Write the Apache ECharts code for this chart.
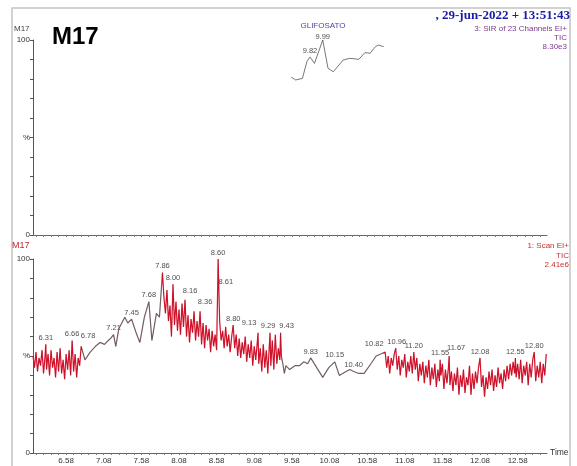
<!DOCTYPE html>
<html>
<head>
<meta charset="utf-8">
<script src="https://cdn.jsdelivr.net/npm/echarts@6/dist/echarts.min.js"></script>
<style>
  html, body { margin: 0; padding: 0; background: #ffffff; }
  #chart { width: 577px; height: 466px; }
</style>
</head>
<body>
<div id="chart"></div>
<script>
// ---- Time axis (minutes) ----
const timeMin = 6.14;
const timeMax = 12.97;
const timeTickLabels = [6.58, 7.08, 7.58, 8.08, 8.58, 9.08, 9.58, 10.08, 10.58, 11.08, 11.58, 12.08, 12.58];

// ---- Channel 3: SIR of 23 channels, GLIFOSATO window (% of 8.30e3) ----
const sirTrace = [
  [9.57, 81], [9.63, 79.5], [9.72, 80.3], [9.78, 89], [9.82, 91.3], [9.88, 88],
  [9.99, 100], [10.06, 85.5], [10.13, 83.7], [10.26, 89.7], [10.35, 90.6],
  [10.47, 90.1], [10.55, 93.5], [10.62, 93.2], [10.69, 96.6], [10.73, 97.4], [10.80, 96.6]
];
const sirPeaks = [[9.82, 91.3], [9.99, 100]];

// ---- Channel 1: Scan EI+ TIC (% of 2.41e6) ----
// labelled peaks (retention time, %)
const ticPeaks = [
  [6.31, 56], [6.66, 58], [6.78, 55], [7.21, 61], [7.45, 69], [7.68, 78], [7.86, 93],
  [8.00, 87], [8.16, 79], [8.36, 73], [8.60, 100], [8.61, 84], [8.80, 66], [9.13, 62],
  [9.29, 62], [9.43, 62], [9.83, 49], [10.15, 47], [10.40, 42], [10.82, 52], [10.96, 54],
  [11.20, 52], [11.55, 48], [11.67, 50], [12.08, 49], [12.55, 49], [12.80, 52]
];

// continuous scans, one value every scanStep minutes
const scanStep = 0.02;
const scanAStart = 6.14;
const scanA = [
  50, 44, 52, 42, 49, 45, 53, 41, 50, 43, 51, 40, 53, 44, 49, 39,
  52, 42, 54, 41, 48, 38, 51, 43, 53, 40, 45, 42, 51, 39, 49, 45
];
const scanBStart = 7.88;
const scanB = [
  80, 72, 84, 68, 76, 60, 87, 66, 78, 63, 74, 61, 77, 65, 79, 60,
  71, 57, 69, 62, 73, 58, 68, 60, 73, 56, 67, 54, 66, 58, 64, 52,
  63, 55, 61, 53, 100, 68, 58, 63, 54, 65, 55, 61, 52, 60, 66, 54,
  61, 50, 59, 49, 57, 51, 60, 47, 56, 49, 58, 45, 55, 48, 57, 46,
  54, 42, 56, 44, 53, 41, 55, 45, 58, 43, 61, 46, 54, 48, 50
];
const scanCStart = 10.84;
const scanC = [
  44, 50, 41, 49, 45, 51, 54, 43, 50, 40, 48, 44, 51, 39, 47, 42,
  50, 41, 52, 43, 49, 37, 46, 40, 47, 36, 45, 39, 48, 35, 44, 38,
  46, 34, 43, 37, 40, 46, 33, 43, 36, 44, 35, 42, 32, 41, 35, 44,
  30, 40, 34, 43, 31, 39, 35, 45, 30, 41, 33, 42, 36, 44, 49, 34,
  40, 29, 39, 33, 42, 35, 43, 32, 40, 34, 44, 36, 41, 33, 43, 37,
  45, 38, 46, 40, 47, 41, 39, 46, 38, 48, 36, 45, 40, 47, 35, 46,
  39, 48, 52, 37, 45, 39, 47, 36, 46, 40, 51
];
// sparser stretches between the scan blocks
const ticSparse1 = [
  [6.83, 48], [6.90, 52], [6.97, 55], [7.03, 57], [7.09, 56], [7.14, 58], [7.17, 59],
  [7.24, 55], [7.28, 64], [7.32, 67], [7.36, 70], [7.40, 67], [7.51, 62], [7.56, 57],
  [7.62, 70], [7.72, 58], [7.78, 72], [7.82, 70]
];
const ticSparse2 = [
  [9.46, 46], [9.48, 41], [9.50, 45], [9.55, 43], [9.62, 45], [9.68, 45], [9.74, 47],
  [9.79, 46], [9.91, 44], [9.99, 39], [10.07, 44], [10.21, 40], [10.30, 42], [10.35, 43],
  [10.47, 41], [10.54, 41], [10.63, 46], [10.70, 50], [10.76, 51]
];

// label nudges for crowded peak annotations [dx, dy]
const labelShift = {
  '6.78': [7, -4], '8.16': [5, -2], '8.36': [5, -3], '8.61': [7, -2],
  '9.13': [-9, -3], '9.29': [-2, 0], '9.43': [6, 0], '10.82': [-11, -2], '10.96': [1, 0],
  '11.67': [7, -2], '9.99': [0, 3]
};

function scanPoints(start, values) {
  return values.map((v, i) => [Math.round((start + i * scanStep) * 100) / 100, v]);
}

function buildTic() {
  const near = t => ticPeaks.some(p => Math.abs(p[0] - t) < 0.006);
  const dense = [].concat(scanPoints(scanAStart, scanA), scanPoints(scanBStart, scanB), scanPoints(scanCStart, scanC))
    .filter(p => !near(p[0]));
  return dense.concat(ticSparse1, ticSparse2, ticPeaks).sort((a, b) => a[0] - b[0]);
}
const ticTrace = buildTic();

const minorTicks = [];
for (let t = 6.18; t <= timeMax + 1e-9; t += 0.1) minorTicks.push(Math.round(t * 100) / 100);

const FONT = '"Liberation Sans", Arial, sans-serif';
const axisGrey = '#666';

function xAxisFor(grid, withLabels) {
  return {
    type: 'value', gridIndex: grid, min: timeMin, max: timeMax,
    axisLine: { show: true, onZero: false, lineStyle: { color: axisGrey, width: 1 } },
    axisTick: { show: true, length: 2, customValues: minorTicks, lineStyle: { color: '#777' } },
    axisLabel: withLabels ? {
      show: true, customValues: timeTickLabels, formatter: v => v.toFixed(2),
      fontFamily: FONT, fontSize: 8, color: '#333', margin: 4
    } : { show: false },
    splitLine: { show: false },
    name: withLabels ? 'Time' : '', nameLocation: 'end', nameGap: 3,
    nameTextStyle: { fontFamily: FONT, fontSize: 8.5, color: '#333' }
  };
}

function yAxisFor(grid) {
  return {
    type: 'value', gridIndex: grid, min: 0, max: 100, interval: 10,
    axisLine: { show: true, lineStyle: { color: '#555', width: 1 } },
    axisTick: { show: true, length: 3, lineStyle: { color: '#555' } },
    axisLabel: {
      formatter: v => (v === 100 ? '100' : v === 0 ? '0' : v === 50 ? '%' : ''),
      fontFamily: FONT, fontSize: 8, color: '#333', margin: 3
    },
    splitLine: { show: false }
  };
}

function peakLabels(peaks) {
  return peaks.map(p => {
    const key = p[0].toFixed(2);
    const item = { value: p };
    if (labelShift[key]) item.label = { offset: labelShift[key] };
    return item;
  });
}

const peakLabelStyle = {
  show: true, position: 'top', distance: 2,
  formatter: p => p.value[0].toFixed(2),
  fontFamily: FONT, fontSize: 7.5, color: '#1a1a1a'
};

const chart = echarts.init(document.getElementById('chart'), null, { renderer: 'canvas' });

chart.setOption({
  animation: false,
  backgroundColor: '#ffffff',
  grid: [
    { left: 33, top: 40, width: 514, height: 195 },
    { left: 33, top: 259, width: 514, height: 194 }
  ],
  xAxis: [xAxisFor(0, false), xAxisFor(1, true)],
  yAxis: [yAxisFor(0), yAxisFor(1)],
  visualMap: [{
    show: false, type: 'piecewise', seriesIndex: 2, dimension: 0,
    pieces: [
      { lt: 6.795, color: '#e8132f' },
      { gte: 6.795, lt: 7.85, color: '#7d6a6c' },
      { gte: 7.85, lt: 9.445, color: '#e8132f' },
      { gte: 9.445, lt: 10.79, color: '#7d6a6c' },
      { gte: 10.79, color: '#e8132f' }
    ]
  }],
  series: [
    {
      type: 'line', xAxisIndex: 0, yAxisIndex: 0, data: sirTrace,
      symbol: 'none', lineStyle: { color: '#555', width: 0.8 }
    },
    {
      type: 'scatter', xAxisIndex: 0, yAxisIndex: 0, data: peakLabels(sirPeaks),
      symbolSize: 1, itemStyle: { color: 'rgba(0,0,0,0)' }, label: peakLabelStyle
    },
    {
      type: 'line', xAxisIndex: 1, yAxisIndex: 1, data: ticTrace,
      symbol: 'none', lineStyle: { width: 1.2 }
    },
    {
      type: 'line', xAxisIndex: 1, yAxisIndex: 1, data: ticTrace,
      symbol: 'none', lineStyle: { color: '#3a1a1a', width: 0.5, opacity: 0.3 }
    },
    {
      type: 'scatter', xAxisIndex: 1, yAxisIndex: 1, data: peakLabels(ticPeaks),
      symbolSize: 1, itemStyle: { color: 'rgba(0,0,0,0)' }, label: peakLabelStyle
    }
  ],
  graphic: [
    // page frame
    { type: 'polyline', shape: { points: [[12, 470], [12, 8], [570, 8], [570, 470]] },
      style: { stroke: '#c4c4c4', lineWidth: 1.5, fill: null }, silent: true },
    { type: 'text', style: { x: 52, y: 37, text: 'M17', font: 'bold 24px ' + FONT, fill: '#000', verticalAlign: 'middle' } },
    { type: 'text', style: { x: 14, y: 29, text: 'M17', font: '8px ' + FONT, fill: '#444', verticalAlign: 'middle' } },
    { type: 'text', style: { x: 12, y: 246, text: 'M17', font: '9px ' + FONT, fill: '#c4262e', verticalAlign: 'middle' } },
    { type: 'text', style: { x: 323, y: 26, text: 'GLIFOSATO', font: '8px ' + FONT, fill: '#4a44a8', align: 'center', verticalAlign: 'middle' } },
    { type: 'text', style: { x: 570, y: 16, text: ', 29-jun-2022 + 13:51:43', font: 'bold 13px "Liberation Serif", serif', fill: '#1b1ba6', align: 'right', verticalAlign: 'middle' } },
    { type: 'text', style: { x: 567, y: 29, text: '3: SIR of 23 Channels EI+', font: '8px ' + FONT, fill: '#7b3a8c', align: 'right', verticalAlign: 'middle' } },
    { type: 'text', style: { x: 567, y: 38, text: 'TIC', font: '8px ' + FONT, fill: '#7b3a8c', align: 'right', verticalAlign: 'middle' } },
    { type: 'text', style: { x: 567, y: 47, text: '8.30e3', font: '8px ' + FONT, fill: '#7b3a8c', align: 'right', verticalAlign: 'middle' } },
    { type: 'text', style: { x: 569, y: 246, text: '1: Scan EI+', font: '8px ' + FONT, fill: '#c8302e', align: 'right', verticalAlign: 'middle' } },
    { type: 'text', style: { x: 569, y: 255.5, text: 'TIC', font: '8px ' + FONT, fill: '#c8302e', align: 'right', verticalAlign: 'middle' } },
    { type: 'text', style: { x: 569, y: 265, text: '2.41e6', font: '8px ' + FONT, fill: '#c8302e', align: 'right', verticalAlign: 'middle' } }
  ]
});
</script>
</body>
</html>
